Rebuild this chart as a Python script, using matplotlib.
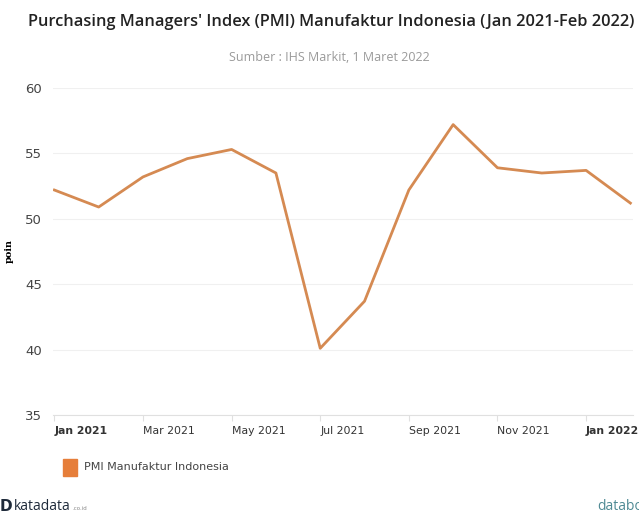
import matplotlib.pyplot as plt
import numpy as np

# PMI Manufaktur Indonesia, Jan 2021 - Feb 2022
months = ['Jan 2021', 'Feb 2021', 'Mar 2021', 'Apr 2021', 'May 2021', 'Jun 2021',
          'Jul 2021', 'Aug 2021', 'Sep 2021', 'Oct 2021', 'Nov 2021', 'Dec 2021',
          'Jan 2022', 'Feb 2022']
pmi = [52.2, 50.9, 53.2, 54.6, 55.3, 53.5, 40.1, 43.7, 52.2, 57.2, 53.9, 53.5, 53.7, 51.2]
yticks = [35, 40, 45, 50, 55, 60]

fig = plt.figure(figsize=(6.39, 5.13), dpi=100)
ax = fig.add_axes([0.083, 0.191, 0.907, 0.6375])

x = np.arange(len(months))
ax.plot(x, pmi, color='#d58a52', lw=2.0)

ax.set_ylim(35, 60)
ax.set_xlim(-0.03, 13.05)
ax.set_yticks(yticks)
ax.set_yticklabels([str(v) for v in yticks], fontsize=9.5, color='#444444')
ax.grid(axis='y', color='#f0f0f0', lw=0.8)
ax.set_axisbelow(True)

tick_pos = x[::2]
ax.set_xticks(tick_pos)
labels = ax.set_xticklabels([months[i] for i in tick_pos], fontsize=7.8, color='#333333',
                            ha='left')
for lab in labels:
    if lab.get_text().startswith('Jan'):
        lab.set_fontweight('bold')
ax.tick_params(axis='x', length=4, color='#e0e0e0', pad=4)
ax.tick_params(axis='y', length=0, pad=8)

for s in ['top', 'right', 'left']:
    ax.spines[s].set_visible(False)
ax.spines['bottom'].set_color('#e0e0e0')

ax.set_ylabel('poin', fontsize=7, fontweight='bold', family='DejaVu Serif')
ax.yaxis.set_label_coords(-0.068, 0.5)

fig.text(0.519, 0.958, "Purchasing Managers' Index (PMI) Manufaktur Indonesia (Jan 2021-Feb 2022)",
         ha='center', va='center', fontsize=11.8, fontweight='semibold', color='#222222',
         family='Open Sans')
fig.text(0.515, 0.888, 'Sumber : IHS Markit, 1 Maret 2022', ha='center', va='center',
         fontsize=9, color='#9a9a9a', family='Open Sans')

# legend
fig.patches.append(plt.Rectangle((0.099, 0.073), 0.022, 0.033, transform=fig.transFigure,
                                 color='#e67e3a', figure=fig))
fig.text(0.131, 0.089, 'PMI Manufaktur Indonesia', ha='left', va='center', fontsize=8,
         color='#444444')

# logos
fig.text(0.0, 0.012, 'D', ha='left', va='center', fontsize=11, fontweight='bold', color='#1e2a3a')
fig.text(0.022, 0.012, 'katadata', ha='left', va='center', fontsize=10, color='#1e2a3a',
         family='Open Sans')
fig.text(0.113, 0.008, '.co.id', ha='left', va='center', fontsize=4, color='#888888')
fig.text(0.935, 0.012, 'databoks', ha='left', va='center', fontsize=10, color='#4f8a94',
         family='Open Sans')

fig.savefig('out.png', dpi=100)
plt.close(fig)
